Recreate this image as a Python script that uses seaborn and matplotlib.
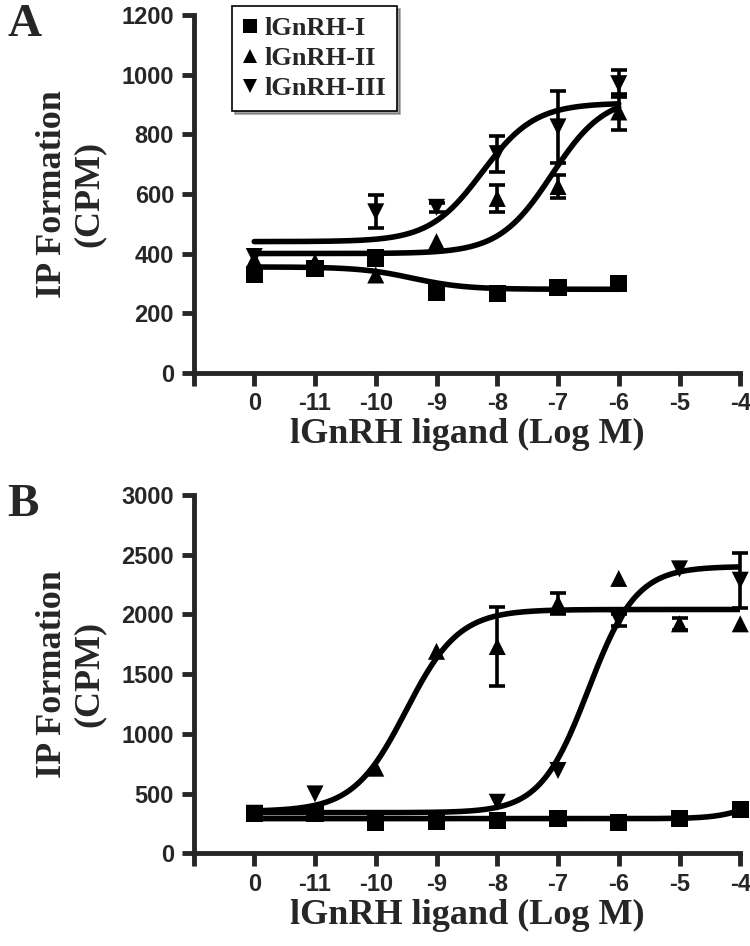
import numpy as np
import pandas as pd
import matplotlib
matplotlib.use("Agg")
import matplotlib.pyplot as plt
import seaborn as sns

# x positions: -12 stands for the vehicle control, labelled "0"
tick_pos = [-13, -12, -11, -10, -9, -8, -7, -6, -5, -4]
tick_labels = ["", "0", "-11", "-10", "-9", "-8", "-7", "-6", "-5", "-4"]
ligands = ["lGnRH-I", "lGnRH-II", "lGnRH-III"]
markers = {"lGnRH-I": "s", "lGnRH-II": "^", "lGnRH-III": "v"}

# Panel A
a_x = [-12, -11, -10, -9, -8, -7, -6]
a_I = [330, 350, 385, 268, 266, 286, 298]
a_I_err = [0, 0, 0, 0, 0, 0, 0]
a_II = [380, 372, 328, 440, 585, 625, 875]
a_II_err = [0, 0, 0, 0, 45, 40, 60]
a_III = [390, np.nan, 540, 555, 735, 825, 970]
a_III_err = [0, 0, 55, 15, 60, 120, 45]
# fitted curves: bottom, top, logEC50, hill
a_fit = {"lGnRH-I": (355, 280, -9.4, 1.0),
         "lGnRH-II": (400, 930, -7.1, 1.0),
         "lGnRH-III": (440, 905, -8.25, 1.0)}

# Panel B
b_x = [-12, -11, -10, -9, -8, -7, -6, -5, -4]
b_I = [335, 335, 255, 262, 274, 288, 255, 290, 365]
b_I_err = [0, 0, 0, 0, 0, 0, 0, 0, 0]
b_II = [335, np.nan, 712, 1690, 1730, 2090, 2300, 1920, 1920]
b_II_err = [0, 0, 0, 0, 330, 85, 0, 50, 0]
b_III = [335, 497, np.nan, np.nan, 427, 693, 1950, 2380, 2285]
b_III_err = [0, 0, 0, 0, 0, 0, 50, 0, 230]
b_fit = {"lGnRH-I": (290, 500, -3.8, 1.5),
         "lGnRH-II": (350, 2040, -9.5, 1.0),
         "lGnRH-III": (340, 2400, -6.5, 1.1)}


def logistic(x, lo, hi, ec50, hill):
    return lo + (hi - lo) / (1 + 10 ** (hill * (ec50 - x)))


def draw_panel(ax, xs, series, errs, fits, x_end, ymax, ystep, letter, show_legend):
    rows = []
    for name, vals in zip(ligands, series):
        for x, v in zip(xs, vals):
            rows.append({"x": x, "y": v, "Ligand": name})
    df = pd.DataFrame(rows).dropna()

    curve_x = np.linspace(-12, x_end, 300)
    for name in ligands:
        lo, hi, ec50, hill = fits[name]
        sns.lineplot(x=curve_x, y=logistic(curve_x, lo, hi, ec50, hill),
                     color="black", lw=4, ax=ax, legend=False)

    for name, vals, err in zip(ligands, series, errs):
        e = np.array(err, dtype=float)
        e[e == 0] = np.nan
        ax.errorbar(xs, vals, yerr=e, fmt="none", ecolor="black",
                    elinewidth=2.6, capsize=6, capthick=2.6, clip_on=False)

    sns.scatterplot(data=df, x="x", y="y", style="Ligand", markers=markers,
                    style_order=ligands, color="black", s=150, edgecolor="black",
                    linewidth=0, ax=ax, legend=show_legend, zorder=5, clip_on=False)

    ax.set_xlim(-13, -4)
    ax.set_ylim(0, ymax)
    ax.set_xticks(tick_pos)
    ax.set_xticklabels(tick_labels)
    ax.set_yticks(np.arange(0, ymax + 1, ystep))
    for s in ["left", "bottom"]:
        ax.spines[s].set_linewidth(3.5)
    ax.spines["top"].set_visible(False)
    ax.spines["right"].set_visible(False)
    ax.tick_params(width=3.5, length=9, labelsize=17, pad=5)
    for lab in ax.get_xticklabels() + ax.get_yticklabels():
        lab.set_fontweight("bold")
        lab.set_family(["Liberation Sans"])
    ax.set_xlabel("lGnRH ligand (Log M)", family="Liberation Serif",
                  fontweight="bold", fontsize=26, labelpad=2)
    ax.set_ylabel("IP Formation\n(CPM)", family="Liberation Serif",
                  fontweight="bold", fontsize=26, labelpad=11, linespacing=1.15)
    ax.text(-0.34, 1.03, letter, transform=ax.transAxes, family="Liberation Serif",
            fontweight="bold", fontsize=34, va="top", ha="left")
    if show_legend:
        leg = ax.legend(loc="upper left", bbox_to_anchor=(0.070, 1.025),
                        borderaxespad=0,
                        prop={"family": "Liberation Serif", "weight": "bold", "size": 19},
                        frameon=True, fancybox=False, shadow=True, edgecolor="black",
                        handletextpad=0.25, borderpad=0.4, labelspacing=0.25,
                        handlelength=0.6, markerscale=0.85)
        leg.get_frame().set_linewidth(1.2)


sns.set_style("ticks")
fig = plt.figure(figsize=(7.5, 9.46), dpi=100)
ax_a = fig.add_axes([0.258, 0.606, 0.729, 0.378])
ax_b = fig.add_axes([0.258, 0.098, 0.729, 0.379])

draw_panel(ax_a, a_x, [a_I, a_II, a_III], [a_I_err, a_II_err, a_III_err],
           a_fit, -6, 1200, 200, "A", True)
draw_panel(ax_b, b_x, [b_I, b_II, b_III], [b_I_err, b_II_err, b_III_err],
           b_fit, -4, 3000, 500, "B", False)

fig.savefig("out.png", dpi=100)
